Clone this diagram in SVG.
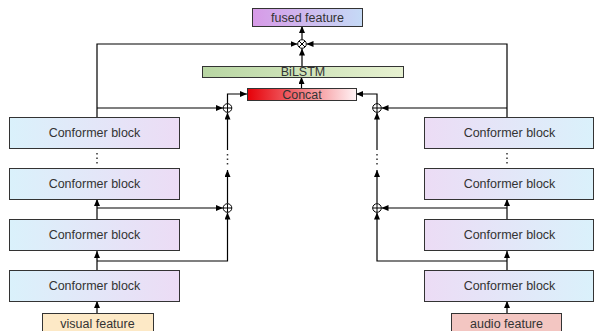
<svg xmlns="http://www.w3.org/2000/svg" width="594" height="331" viewBox="0 0 594 331">
<defs>
<linearGradient id="gL" x1="0" y1="0" x2="1" y2="0"><stop offset="0" stop-color="#daf1fb"/><stop offset="1" stop-color="#ecdcf5"/></linearGradient>
<linearGradient id="gR" x1="0" y1="0" x2="1" y2="0"><stop offset="0" stop-color="#ecdcf5"/><stop offset="1" stop-color="#daf1fb"/></linearGradient>
<linearGradient id="gF" x1="0" y1="0" x2="1" y2="0"><stop offset="0" stop-color="#d79ae7"/><stop offset="1" stop-color="#c5daf6"/></linearGradient>
<linearGradient id="gB" x1="0" y1="0" x2="1" y2="0"><stop offset="0" stop-color="#b8d6a3"/><stop offset="1" stop-color="#e7f1d1"/></linearGradient>
<linearGradient id="gC" x1="0" y1="0" x2="1" y2="0"><stop offset="0" stop-color="#e60008"/><stop offset="1" stop-color="#fff4f6"/></linearGradient>
<marker id="ah" markerUnits="userSpaceOnUse" markerWidth="7" markerHeight="6" refX="7" refY="3" orient="auto"><path d="M0,0 L7,3 L0,6 z" fill="#000"/></marker>
</defs>
<style>
.box{stroke:#333;stroke-width:1}
.t{font-family:"Liberation Sans",Arial,sans-serif;font-size:12.5px;fill:#333;text-anchor:middle;dominant-baseline:central}
.c{fill:none;stroke:#000;stroke-width:1.2}
.a{marker-end:url(#ah)}
.op{fill:#fff;stroke:#000;stroke-width:1}
.dots{fill:none;stroke:#333;stroke-width:1.5;stroke-dasharray:1.5 3}
</style>

<g id="connectors">
<!-- top -->
<path class="c a" d="M302,66 V48.5"/>
<path class="c a" d="M302,39.5 V26"/>
<path class="c a" d="M301.5,88 V77"/>
<path class="c a" d="M97,117 V44 H297.5"/>
<path class="c a" d="M507,117 V44 H306.5"/>
<!-- left -->
<path class="c a" d="M97,108 H223"/>
<path class="c a" d="M227.5,104 V94 H247"/>
<path class="c a" d="M227.5,150 V112.5"/>
<path class="dots" d="M227.5,154 V166"/>
<path class="c a" d="M227.5,203.5 V170"/>
<path class="c a" d="M97,219 V199"/>
<path class="c a" d="M97,208 H223"/>
<path class="c a" d="M97,270 V251"/>
<path class="c a" d="M97,261 H227.5 V212.5"/>
<path class="c a" d="M97,313 V301"/>
<path class="dots" d="M97,153 V166"/>
<!-- right -->
<path class="c a" d="M507,108 H381.5"/>
<path class="c a" d="M377,104 V94 H356"/>
<path class="c a" d="M377,150 V112.5"/>
<path class="dots" d="M377,154 V166"/>
<path class="c a" d="M377,203.5 V170"/>
<path class="c a" d="M507,219 V199"/>
<path class="c a" d="M507,208 H381.5"/>
<path class="c a" d="M507,270 V251"/>
<path class="c a" d="M507,261 H377 V212.5"/>
<path class="c a" d="M507,313 V301"/>
<path class="dots" d="M507,153 V166"/>
</g>

<g id="otimes"><circle class="op" cx="302" cy="44" r="4.3"/><path d="M299,41 L305,47 M305,41 L299,47" stroke="#000" stroke-width="1"/></g>
<g id="plusL1"><circle class="op" cx="227.5" cy="108" r="4.3"/><path d="M223.2,108 H231.8 M227.5,103.7 V112.3" stroke="#000" stroke-width="1"/></g>
<g id="plusL2"><circle class="op" cx="227.5" cy="208" r="4.3"/><path d="M223.2,208 H231.8 M227.5,203.7 V212.3" stroke="#000" stroke-width="1"/></g>
<g id="plusR1"><circle class="op" cx="377" cy="108" r="4.3"/><path d="M372.7,108 H381.3 M377,103.7 V112.3" stroke="#000" stroke-width="1"/></g>
<g id="plusR2"><circle class="op" cx="377" cy="208" r="4.3"/><path d="M372.7,208 H381.3 M377,203.7 V212.3" stroke="#000" stroke-width="1"/></g>

<g id="fused"><rect class="box" x="252.5" y="8.5" width="110" height="18" fill="url(#gF)"/><text class="t" x="307.5" y="17.5">fused feature</text></g>
<g id="bilstm"><rect class="box" x="202.5" y="66.5" width="201" height="11" fill="url(#gB)"/><text class="t" x="303" y="72">BiLSTM</text></g>
<g id="concat"><rect class="box" x="247.5" y="88.5" width="109" height="12" fill="url(#gC)"/><text class="t" x="302" y="94.5">Concat</text></g>

<g id="L1"><rect class="box" x="9.5" y="117.5" width="170" height="31" fill="url(#gL)"/><text class="t" x="94.5" y="133">Conformer block</text></g>
<g id="L2"><rect class="box" x="9.5" y="168.5" width="170" height="31" fill="url(#gL)"/><text class="t" x="94.5" y="184">Conformer block</text></g>
<g id="L3"><rect class="box" x="9.5" y="219.5" width="170" height="31" fill="url(#gL)"/><text class="t" x="94.5" y="235">Conformer block</text></g>
<g id="L4"><rect class="box" x="9.5" y="270.5" width="170" height="31" fill="url(#gL)"/><text class="t" x="94.5" y="286">Conformer block</text></g>
<g id="visual"><rect class="box" x="42.5" y="313.5" width="111" height="18" fill="#fde9c6"/><text class="t" x="97.5" y="323.5">visual feature</text></g>

<g id="R1"><rect class="box" x="424.5" y="117.5" width="169" height="31" fill="url(#gR)"/><text class="t" x="509.5" y="133">Conformer block</text></g>
<g id="R2"><rect class="box" x="424.5" y="168.5" width="169" height="31" fill="url(#gR)"/><text class="t" x="509.5" y="184">Conformer block</text></g>
<g id="R3"><rect class="box" x="424.5" y="219.5" width="169" height="31" fill="url(#gR)"/><text class="t" x="509.5" y="235">Conformer block</text></g>
<g id="R4"><rect class="box" x="424.5" y="270.5" width="169" height="31" fill="url(#gR)"/><text class="t" x="509.5" y="286">Conformer block</text></g>
<g id="audio"><rect class="box" x="451.5" y="313.5" width="110" height="18" fill="#f3c6c2"/><text class="t" x="506.5" y="323.5">audio feature</text></g>
</svg>
